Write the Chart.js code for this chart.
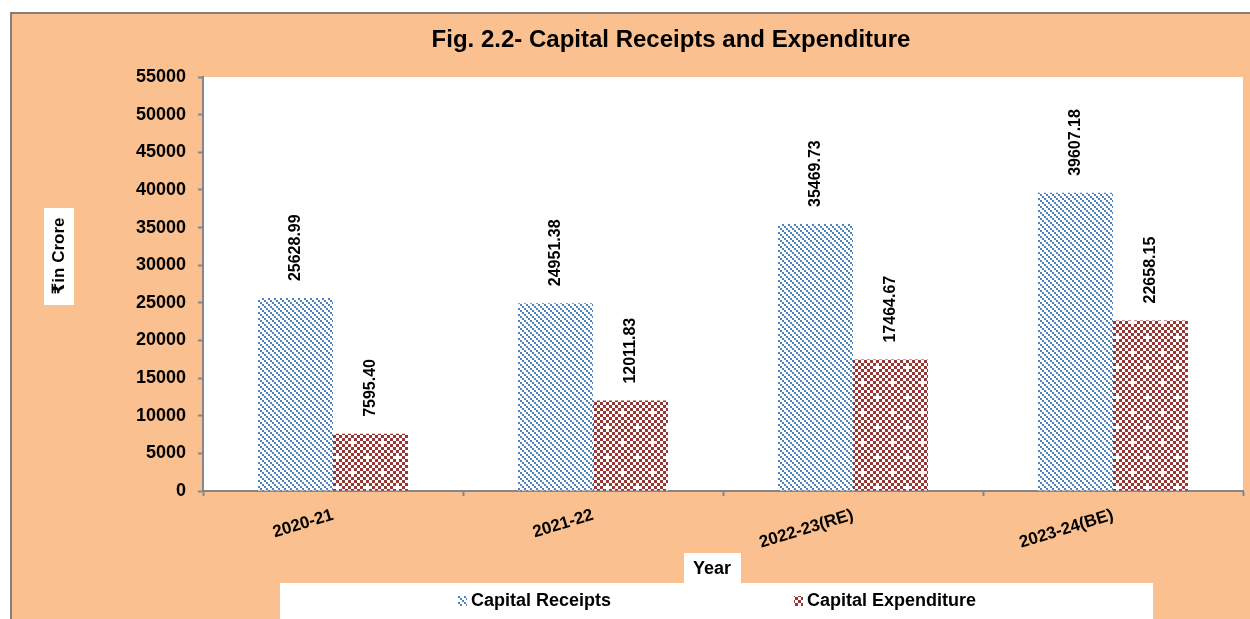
<!DOCTYPE html>
<html>
<head>
<meta charset="utf-8">
<script src="https://cdn.jsdelivr.net/npm/chart.js@4.4.1/dist/chart.umd.min.js"></script>
<style>
  html, body { margin: 0; padding: 0; background: #ffffff; }
  #wrap { position: absolute; left: 0; top: 0; width: 1250px; height: 619px; }
</style>
</head>
<body>
<div id="wrap"><canvas id="c" width="1250" height="619"></canvas></div>
<script>
// ---- data ----
const categories = ['2020-21', '2021-22', '2022-23(RE)', '2023-24(BE)'];
const capitalReceipts = [25628.99, 24951.38, 35469.73, 39607.18];
const capitalExpenditure = [7595.40, 12011.83, 17464.67, 22658.15];
const seriesNames = ['Capital Receipts', 'Capital Expenditure'];
const chartTitle = 'Fig. 2.2- Capital Receipts and Expenditure';
const yTitle = '\u20B9in Crore';
const xTitle = 'Year';
const yMin = 0, yMax = 55000, yStep = 5000;

const FONT = '"Liberation Sans", Arial, "DejaVu Sans", sans-serif';
const ORANGE = '#FAC090';
const AXIS = '#868686';

function makeBluePattern() {
  const t = document.createElement('canvas');
  t.width = 6; t.height = 6;
  const g = t.getContext('2d');
  g.fillStyle = '#ffffff'; g.fillRect(0, 0, 6, 6);
  g.fillStyle = '#4F81BD';
  g.fillRect(0, 0, 2, 2);
  g.fillRect(2, 2, 2, 2);
  g.fillRect(4, 4, 2, 2);
  return g.createPattern(t, 'repeat');
}
function makeRedPattern() {
  const n = 10, c = 3;
  const t = document.createElement('canvas');
  t.width = n * c; t.height = n * c;
  const g = t.getContext('2d');
  g.fillStyle = '#ffffff'; g.fillRect(0, 0, n * c, n * c);
  g.fillStyle = '#953735';
  const holes = [[2, 2], [7, 7]];
  for (let i = 0; i < n; i++) {
    for (let j = 0; j < n; j++) {
      if ((i + j) % 2 !== 0) continue;
      if (holes.some(h => h[0] === i && h[1] === j)) continue;
      g.fillRect(i * c, j * c, c, c);
    }
  }
  return g.createPattern(t, 'repeat');
}
const bluePat = makeBluePattern();
const redPat = makeRedPattern();

const decor = {
  id: 'decor',
  beforeDraw(chart) {
    const ctx = chart.ctx, a = chart.chartArea;
    ctx.save();
    ctx.fillStyle = '#ffffff';
    ctx.fillRect(0, 0, chart.width, chart.height);
    ctx.fillStyle = ORANGE;
    ctx.fillRect(10, 12, chart.width - 10, chart.height - 12);
    ctx.strokeStyle = '#7F7F7F';
    ctx.lineWidth = 2;
    ctx.beginPath();
    ctx.moveTo(11, chart.height); ctx.lineTo(11, 13); ctx.lineTo(chart.width, 13);
    ctx.stroke();
    ctx.fillStyle = '#ffffff';
    ctx.fillRect(a.left, a.top, a.right - a.left, a.bottom - a.top);
    // title
    ctx.fillStyle = '#000000';
    ctx.font = 'bold 24px ' + FONT;
    ctx.textAlign = 'center';
    ctx.textBaseline = 'middle';
    ctx.fillText(chartTitle, 671, 40);
    // y title box
    ctx.fillStyle = '#ffffff';
    ctx.fillRect(44, 208, 30, 97);
    ctx.save();
    ctx.translate(59, 256);
    ctx.rotate(-Math.PI / 2);
    ctx.fillStyle = '#000000';
    ctx.font = 'bold 17px ' + FONT;
    ctx.fillText(yTitle, 0, 0);
    ctx.restore();
    // legend box and Year box
    ctx.fillStyle = '#ffffff';
    ctx.fillRect(280, 583, 873, 36);
    ctx.fillRect(684, 553, 57, 30);
    ctx.fillStyle = '#000000';
    ctx.font = 'bold 18px ' + FONT;
    ctx.fillText(xTitle, 712, 569);
    // legend items
    const items = [{x: 458, i: 0}, {x: 794, i: 1}];
    items.forEach(it => {
      const ds = chart.data.datasets[it.i];
      ctx.fillStyle = ds.backgroundColor;
      ctx.fillRect(it.x, 596, 9, 10);
      ctx.fillStyle = '#000000';
      ctx.textAlign = 'left';
      ctx.fillText(ds.label, it.x + 13, 601);
    });
    ctx.restore();
  },
  afterDatasetsDraw(chart) {
    const ctx = chart.ctx;
    ctx.save();
    ctx.fillStyle = '#000000';
    ctx.font = 'bold 16px ' + FONT;
    ctx.textAlign = 'left';
    ctx.textBaseline = 'middle';
    chart.data.datasets.forEach((ds, di) => {
      chart.getDatasetMeta(di).data.forEach((bar, i) => {
        ctx.save();
        ctx.translate(bar.x, bar.y - 17);
        ctx.rotate(-Math.PI / 2);
        ctx.fillText(ds.data[i].toFixed(2), 0, 0);
        ctx.restore();
      });
    });
    ctx.restore();
  }
};

new Chart(document.getElementById('c'), {
  type: 'bar',
  data: {
    labels: categories,
    datasets: [
      { label: seriesNames[0], data: capitalReceipts, backgroundColor: bluePat, borderWidth: 0 },
      { label: seriesNames[1], data: capitalExpenditure, backgroundColor: redPat, borderWidth: 0 }
    ]
  },
  options: {
    responsive: false,
    animation: false,
    events: [],
    layout: { padding: { left: 113, right: 7, top: 77, bottom: 0 } },
    datasets: { bar: { categoryPercentage: 0.577, barPercentage: 1.0 } },
    plugins: { legend: { display: false }, title: { display: false }, tooltip: { enabled: false } },
    scales: {
      x: {
        afterFit(s) { s.height = 128; },
        grid: { display: true, drawOnChartArea: false, drawTicks: true, tickLength: 5, tickColor: AXIS, tickWidth: 2, offset: true },
        border: { display: true, color: AXIS, width: 2 },
        ticks: { color: '#000000', font: { family: FONT, size: 17, weight: 'bold' }, minRotation: 17, maxRotation: 17, autoSkip: false, padding: 9 }
      },
      y: {
        min: yMin, max: yMax,
        afterFit(s) { s.width = 90; },
        grid: { display: true, drawOnChartArea: false, drawTicks: true, tickLength: 5, tickColor: AXIS, tickWidth: 2 },
        border: { display: true, color: AXIS, width: 2 },
        ticks: { stepSize: yStep, color: '#000000', font: { family: FONT, size: 18, weight: 'bold' }, padding: 12,
                 callback: (v) => String(v) }
      }
    }
  },
  plugins: [decor]
});
</script>
</body>
</html>
